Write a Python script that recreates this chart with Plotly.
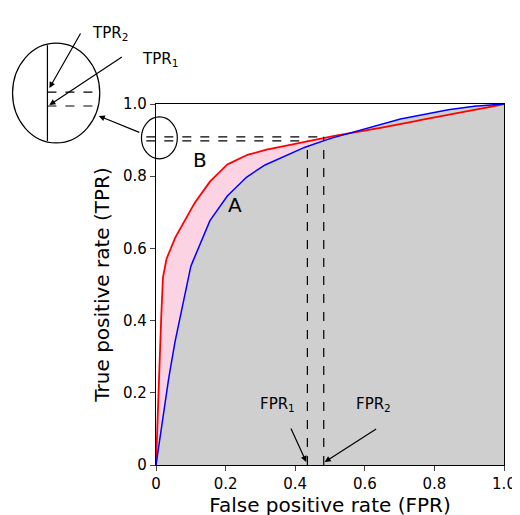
import numpy as np
import plotly.graph_objects as go

# curve readings
fpr = [0, 0.01, 0.02, 0.03, 0.05, 0.1, 0.15, 0.2, 0.25, 0.3, 0.4, 0.45, 0.5, 0.6, 0.7, 0.8, 0.9, 1.0]
tpr_b = [0, 0.3, 0.52, 0.57, 0.62, 0.71, 0.78, 0.83, 0.855, 0.87, 0.89, 0.9, 0.91, 0.925, 0.945, 0.962, 0.98, 1.0]
tpr_a = [0, 0.07, 0.14, 0.2, 0.32, 0.55, 0.67, 0.74, 0.79, 0.825, 0.87, 0.888, 0.904, 0.932, 0.958, 0.978, 0.993, 1.0]

fpr1, fpr2 = 0.435, 0.482
tpr1, tpr2 = 0.898, 0.909

# plot area pixels: x0=148, x1=507, y0=458, y1=96
def px(x):
    return (x - 148) / 359

def py(y):
    return (458 - y) / 362

fine = np.linspace(0, 1, 201)
a = np.interp(fine, fpr, tpr_a)
b = np.interp(fine, fpr, tpr_b)

fig = go.Figure()
fig.add_trace(go.Scatter(x=fine, y=a, fill="tozeroy", fillcolor="#cfcfcf",
                         line=dict(color="rgba(0,0,0,0)"), hoverinfo="skip"))
fig.add_trace(go.Scatter(x=fine, y=np.maximum(a, b), fill="tonexty", fillcolor="#fbd3e3",
                         line=dict(color="rgba(0,0,0,0)"), hoverinfo="skip"))
fig.add_trace(go.Scatter(x=fine, y=b, line=dict(color="red", width=1.8)))
fig.add_trace(go.Scatter(x=fine, y=a, line=dict(color="blue", width=1.5)))

dash = dict(color="black", width=1.2, dash="dash")
shapes = [
    dict(type="line", xref="paper", yref="y", x0=px(138), x1=fpr2, y0=tpr2, y1=tpr2, line=dash),
    dict(type="line", xref="paper", yref="y", x0=px(138), x1=fpr1, y0=tpr1, y1=tpr1, line=dash),
    dict(type="line", xref="x", yref="y", x0=fpr1, x1=fpr1, y0=0, y1=tpr1, line=dash),
    dict(type="line", xref="x", yref="y", x0=fpr2, x1=fpr2, y0=0, y1=tpr2, line=dash),
    # small circle
    dict(type="circle", xref="paper", yref="paper", x0=px(133), x1=px(170), y0=py(151), y1=py(109),
         line=dict(color="black", width=1.2)),
    # magnified circle
    dict(type="circle", xref="paper", yref="paper", x0=px(0), x1=px(90), y0=py(135), y1=py(35),
         line=dict(color="black", width=1.2)),
    dict(type="line", xref="paper", yref="paper", x0=px(36), x1=px(36), y0=py(37), y1=py(133),
         line=dict(color="black", width=1.2)),
    dict(type="line", xref="paper", yref="paper", x0=px(36), x1=px(89), y0=py(84), y1=py(84),
         line=dict(color="black", width=1.2, dash="dash")),
    dict(type="line", xref="paper", yref="paper", x0=px(36), x1=px(89), y0=py(98), y1=py(98),
         line=dict(color="black", width=1.2, dash="dash")),
]

def arrow(tx, ty, ax, ay):
    return dict(xref="paper", yref="paper", x=px(tx), y=py(ty), ax=ax - tx, ay=ay - ty,
                text="", showarrow=True, arrowhead=2,
                arrowsize=1, arrowwidth=1.2, arrowcolor="black")

annotations = [
    arrow(89, 108, 131, 125),
    arrow(38, 80, 70, 24),
    arrow(38, 97, 112, 48),
    arrow(303, 455, 287, 420),
    arrow(322, 455, 375, 421),
    dict(xref="paper", yref="paper", x=px(80), y=py(14), text="TPR<sub>2</sub>", showarrow=False,
         font=dict(size=15, color="black")),
    dict(xref="paper", yref="paper", x=px(132), y=py(40), text="TPR<sub>1</sub>", showarrow=False,
         font=dict(size=15, color="black")),
    dict(xref="paper", yref="paper", x=px(273), y=py(409), text="FPR<sub>1</sub>", showarrow=False,
         font=dict(size=15, color="black")),
    dict(xref="paper", yref="paper", x=px(393), y=py(409), text="FPR<sub>2</sub>", showarrow=False,
         font=dict(size=15, color="black")),
    dict(x=0.125, y=0.845, text="B", showarrow=False, font=dict(size=20, color="black")),
    dict(x=0.228, y=0.72, text="A", showarrow=False, font=dict(size=20, color="black")),
]

axis = dict(range=[0, 1], tickvals=[0, 0.2, 0.4, 0.6, 0.8, 1.0],
            ticktext=["0", "0.2", "0.4", "0.6", "0.8", "1.0"], ticks="outside", ticklen=5,
            showline=True, linecolor="black", linewidth=1.2, mirror=True, showgrid=False,
            zeroline=False, tickfont=dict(size=15, color="black"))

fig.update_layout(
    width=520, height=515, showlegend=False,
    plot_bgcolor="white", paper_bgcolor="white",
    margin=dict(l=148, r=13, t=96, b=57),
    font=dict(family="DejaVu Sans", color="black"),
    xaxis=dict(axis, title=dict(text="False positive rate (FPR)", font=dict(size=20), standoff=4)),
    yaxis=dict(axis, title=dict(text="True positive rate (TPR)", font=dict(size=20), standoff=8)),
    shapes=shapes, annotations=annotations,
)

fig.write_html("out.html")
